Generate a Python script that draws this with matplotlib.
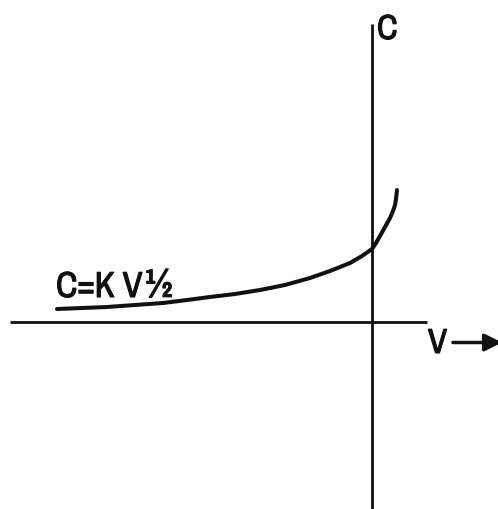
import matplotlib
matplotlib.use("Agg")
import matplotlib.pyplot as plt
import matplotlib.patheffects as pe

# Capacitance vs. bias voltage, C = K V^1/2 (sketch units, origin at axis crossing)
v_vals = [-3.15, -2.90, -2.65, -2.37, -2.09, -1.85, -1.62, -1.37, -1.12, -0.87, -0.62,
          -0.42, -0.22, -0.10, 0.0, 0.04, 0.08, 0.13, 0.18, 0.21, 0.23, 0.24, 0.25]
c_vals = [0.13, 0.14, 0.15, 0.17, 0.19, 0.22, 0.25, 0.28, 0.32, 0.37, 0.44,
          0.51, 0.59, 0.66, 0.73, 0.79, 0.86, 0.95, 1.04, 1.11, 1.17, 1.23, 1.32]

# axis extents
v_axis = [-3.62, 0.55]
c_axis = [-1.9, 2.98]

ink = "#111111"
font = ["Archivo Narrow", "Liberation Sans", "DejaVu Sans"]
bold = [pe.withStroke(linewidth=0.8, foreground=ink)]
txt = dict(family=font, color=ink, ha="left", va="baseline", path_effects=bold)

fig = plt.figure(figsize=(4.98, 5.09), dpi=100)
ax = fig.add_axes([0, 0, 1, 1])
ax.set_xlim(-3.72, 1.26)
ax.set_ylim(-1.87, 3.22)
ax.axis("off")

ax.plot(v_axis, [0, 0], color=ink, lw=2.0, solid_capstyle="butt")
ax.plot([0, 0], c_axis, color=ink, lw=2.0, solid_capstyle="butt")
ax.plot(v_vals, c_vals, color=ink, lw=2.9, solid_capstyle="round", solid_joinstyle="round")

# axis labels
ax.text(0.05, 2.83, "C", fontsize=25, **txt)
ax.text(0.56, -0.31, "V", fontsize=25, **txt)
ax.annotate("", xy=(1.30, -0.205), xytext=(0.81, -0.205), annotation_clip=False,
            arrowprops=dict(arrowstyle="-|>", lw=2.5, color=ink, mutation_scale=26,
                            shrinkA=0, shrinkB=0))

# curve label
ax.text(-3.16, 0.25, "C=K V", fontsize=26, **txt)
ax.text(-2.27, 0.25, "\u00bd", fontsize=29, **txt)

fig.savefig("out.png", dpi=100, facecolor="white")
